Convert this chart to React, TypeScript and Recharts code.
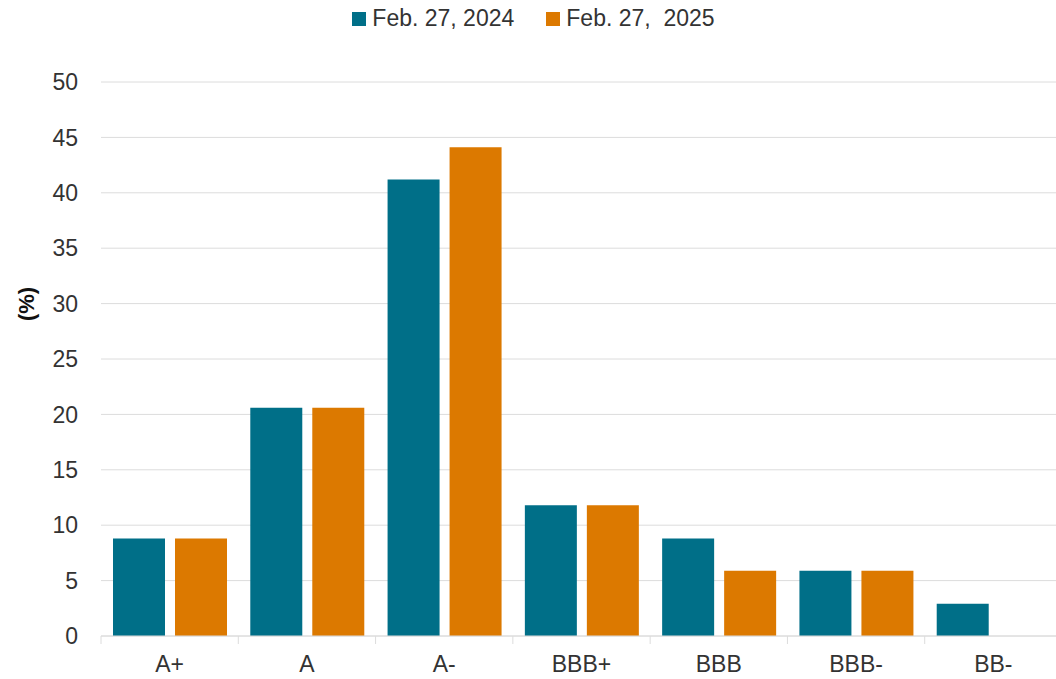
import { Bar, BarChart, CartesianGrid, XAxis, YAxis } from 'recharts'

const ratings = ['A+', 'A', 'A-', 'BBB+', 'BBB', 'BBB-', 'BB-']
const share2024 = [8.8, 20.6, 41.2, 11.8, 8.8, 5.9, 2.9]
const share2025 = [8.8, 20.6, 44.1, 11.8, 5.9, 5.9, 0]
const yTicks = [0, 5, 10, 15, 20, 25, 30, 35, 40, 45, 50]

const label2024 = 'Feb. 27, 2024'
const label2025 = 'Feb. 27,  2025'

const TEAL = '#006f88'
const ORANGE = '#dc7900'
const TEXT = '#333333'
const GRID = '#dcdcdc'
const FONT = '"Liberation Sans", Arial, sans-serif'

const CHART_W = 1056
const Y_AXIS_W = 101
const RIGHT_MARGIN = -6
const X_TICK_MARGIN = 20

const data = ratings.map((rating, i) => ({
  rating,
  y2024: share2024[i],
  y2025: share2025[i],
}))

function LegendItem({ color, text }: { color: string; text: string }) {
  return (
    <div style={{ display: 'flex', alignItems: 'center', gap: 6 }}>
      <span style={{ width: 14, height: 14, background: color, display: 'inline-block' }} />
      <span style={{ whiteSpace: 'pre' }}>{text}</span>
    </div>
  )
}

// category label plus short boundary ticks between categories
function CategoryTick(props: any) {
  const { x, y, payload, index } = props
  const fallbackHalf = (CHART_W - Y_AXIS_W - RIGHT_MARGIN) / ratings.length / 2
  const half = payload && payload.offset ? payload.offset : fallbackHalf
  const axisY = y - X_TICK_MARGIN
  return (
    <g>
      <line x1={x - half} x2={x - half} y1={axisY} y2={axisY + 8} stroke={GRID} />
      {index === ratings.length - 1 && (
        <line x1={x + half} x2={x + half} y1={axisY} y2={axisY + 8} stroke={GRID} />
      )}
      <text
        x={x}
        y={y}
        dy="0.71em"
        textAnchor="middle"
        fill={TEXT}
        fontSize={23}
        fontFamily={FONT}
      >
        {payload.value}
      </text>
    </g>
  )
}

export default function App() {
  return (
    <div
      style={{
        position: 'fixed',
        left: 0,
        top: 0,
        width: CHART_W,
        height: 679,
        background: '#fff',
        fontFamily: FONT,
      }}
    >
      <div
        style={{
          position: 'absolute',
          top: 5,
          left: 0,
          width: CHART_W,
          display: 'flex',
          justifyContent: 'center',
          gap: 32,
          paddingLeft: 11,
          boxSizing: 'border-box',
          fontSize: 23,
          color: TEXT,
        }}
      >
        <LegendItem color={TEAL} text={label2024} />
        <LegendItem color={ORANGE} text={label2025} />
      </div>
      <BarChart
        width={CHART_W}
        height={679}
        data={data}
        margin={{ top: 82, right: RIGHT_MARGIN, bottom: 0, left: 0 }}
        barCategoryGap={12}
        barGap={10}
        style={{ position: 'absolute', left: 0, top: 0 }}
      >
        <CartesianGrid stroke={GRID} vertical={false} />
        <XAxis
          dataKey="rating"
          height={43}
          axisLine={{ stroke: GRID }}
          tickLine={false}
          tickSize={0}
          tickMargin={X_TICK_MARGIN}
          tick={<CategoryTick />}
          interval={0}
        />
        <YAxis
          width={Y_AXIS_W}
          domain={[0, 50]}
          ticks={yTicks}
          axisLine={false}
          tickLine={false}
          tickSize={0}
          tickMargin={23}
          tick={{ fill: TEXT, fontSize: 23, fontFamily: FONT }}
          label={{
            content: ({ viewBox }: any) => (
              <text
                x={viewBox.x + 26}
                y={viewBox.y + viewBox.height / 2 - 55}
                transform={`rotate(-90, ${viewBox.x + 26}, ${viewBox.y + viewBox.height / 2 - 55})`}
                textAnchor="middle"
                dominantBaseline="central"
                fill="#111"
                fontSize={22}
                fontWeight="bold"
                fontFamily={FONT}
              >
                (%)
              </text>
            ),
          }}
        />
        <Bar dataKey="y2024" name={label2024} fill={TEAL} isAnimationActive={false} />
        <Bar dataKey="y2025" name={label2025} fill={ORANGE} isAnimationActive={false} />
      </BarChart>
    </div>
  )
}
